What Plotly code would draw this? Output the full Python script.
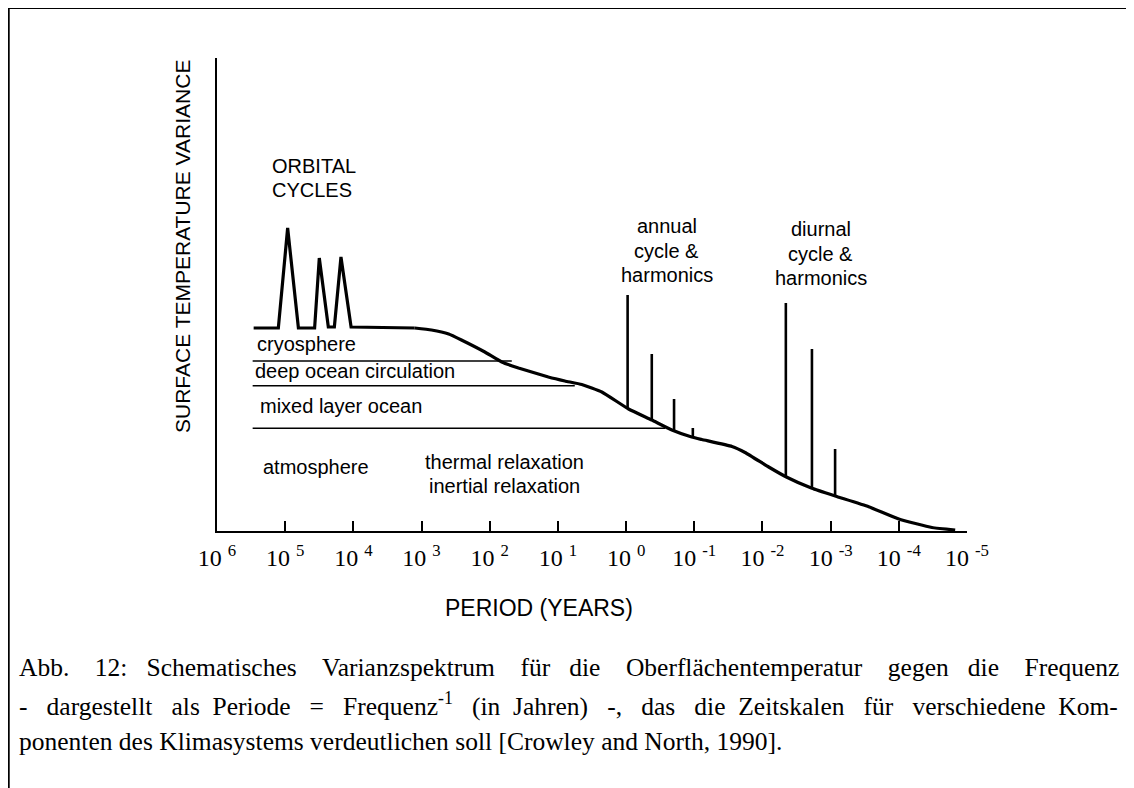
import math
import plotly.graph_objects as go

# ---------------- data ----------------
# background spectrum: period in years, variance in arbitrary units
curve_period = [2.9e5, 1.26e5, 9.2e4, 6.4e4, 3.7e4, 3.16e4, 2.33e4, 1.9e4, 1.52e4, 1.08e4,
                1260, 716, 400, 260, 118, 66.7, 37.9, 13.8, 7.9, 4.47, 2.27, 0.92, 0.42,
                0.213, 0.109, 0.0775, 0.028, 0.018, 0.0081, 0.00454, 0.00188, 8.6e-4,
                2.77e-4, 1.0e-4, 3.27e-5, 1.49e-5]
curve_variance = [203, 203, 303, 203, 203, 273, 204, 204, 274, 204,
                  203, 201, 197, 191, 179, 169, 163, 154, 150, 146.5, 139, 122, 111,
                  101, 94, 91.5, 84.5, 78.5, 64, 54.3, 42.7, 35,
                  24.3, 12, 3.5, 1]
N_ORBITAL = 11  # first points (orbital peaks + plateau) drawn with straight segments

# spectral lines (annual and diurnal cycles & harmonics)
spike_period = [0.95, 0.42, 0.198, 0.105, 0.00454, 0.00188, 8.6e-4]
spike_top = [236, 177, 132, 103, 228, 182, 82]
spike_base = [122, 111, 100, 94, 54, 43, 35]

# component separators
sep_variance = [170, 145.3, 102.7]
sep_start = [3.0e5, 3.0e5, 3.0e5]
sep_end = [47.5, 5.66, 0.268]

tick_exponents = [6, 5, 4, 3, 2, 1, 0, -1, -2, -3, -4, -5]
tick_labels = ["10\u00a0<sup>%d</sup>" % e for e in tick_exponents]

# ---------------- figure ----------------
# reference-pixel frame of the plot area (page coordinates)
PL, PR, PT, PB = 217, 966.7, 58, 531
OFF = 8  # page body margin
W, H = 1134 - OFF, 788 - OFF


def fx(px):
    return (px - PL) / (PR - PL)


def fy(py):
    return (PB - py) / (PB - PT)


fig = go.Figure()

sx, sy = [], []
for p0, p1, v in zip(sep_start, sep_end, sep_variance):
    sx += [p0, p1, None]
    sy += [v, v, None]
fig.add_trace(go.Scatter(x=sx, y=sy, mode="lines",
                         line=dict(color="black", width=1.6), hoverinfo="skip"))

fig.add_trace(go.Scatter(x=curve_period[:N_ORBITAL], y=curve_variance[:N_ORBITAL],
                         mode="lines", line=dict(color="black", width=3.2),
                         hoverinfo="skip"))
fig.add_trace(go.Scatter(x=curve_period[N_ORBITAL - 1:], y=curve_variance[N_ORBITAL - 1:],
                         mode="lines",
                         line=dict(color="black", width=3.2, shape="spline", smoothing=0.4),
                         hoverinfo="skip"))

kx, ky = [], []
for p, b, t in zip(spike_period, spike_base, spike_top):
    kx += [p, p, None]
    ky += [b, t, None]
fig.add_trace(go.Scatter(x=kx, y=ky, mode="lines",
                         line=dict(color="black", width=2.6), hoverinfo="skip"))

sans = "Liberation Sans, Arial, sans-serif"
serif = "Liberation Serif, Times New Roman, serif"

ann = []


def txt(text, period, var, xanchor="left", size=20):
    ann.append(dict(text=text, x=math.log10(period), y=var, xref="x", yref="y",
                    xanchor=xanchor, yanchor="middle", showarrow=False,
                    font=dict(family=sans, size=size, color="black")))


txt("ORBITAL", 10 ** 5.228, 365)
txt("CYCLES", 10 ** 5.228, 341)
txt("cryosphere", 10 ** 5.444, 187)
txt("deep ocean circulation", 10 ** 5.467, 160.5)
txt("mixed layer ocean", 10 ** 5.404, 125.5)
txt("atmosphere", 10 ** 5.36, 64)
txt("thermal relaxation", 10 ** 1.782, 69, "center")
txt("inertial relaxation", 10 ** 1.782, 45, "center")
txt("annual", 10 ** -0.597, 305, "center")
txt("cycle &", 10 ** -0.597, 280, "center")
txt("harmonics", 10 ** -0.597, 256, "center")
txt("diurnal", 10 ** -2.856, 302, "center")
txt("cycle &", 10 ** -2.856, 277, "center")
txt("harmonics", 10 ** -2.856, 253, "center")

# axis titles
ann.append(dict(text="SURFACE TEMPERATURE VARIANCE", x=fx(183), y=fy(246), xref="paper",
                yref="paper", textangle=-90, showarrow=False, xanchor="center",
                yanchor="middle", font=dict(family=sans, size=21, color="black")))
ann.append(dict(text="PERIOD (YEARS)", x=fx(539), y=fy(608), xref="paper", yref="paper",
                showarrow=False, xanchor="center", yanchor="middle",
                font=dict(family=sans, size=23, color="black")))

caption_words = [
    "Abb. 12: Schematisches Varianzspektrum für die Oberflächentemperatur gegen die Frequenz".split(" "),
    "- dargestellt als Periode = Frequenz<sup>-1</sup> (in Jahren) -, das die Zeitskalen für verschiedene Kom-".split(" "),
    "ponenten des Klimasystems verdeutlichen soll [Crowley and North, 1990].".split(" "),
]
# extra non-breaking spaces per word gap to imitate the justified paragraph
gap_extra = [
    [3, 2, 3, 3, 2, 3, 3, 2, 3],
    [2, 2, 1, 2, 2, 2, 1, 2, 2, 2, 1, 2, 2, 1],
    [0] * 9,
]
for words, extra, ypx in zip(caption_words, gap_extra, [667, 704, 741]):
    line = words[0]
    for w, k in zip(words[1:], extra):
        line += " " + "\u00a0" * k + w
    ann.append(dict(text=line, x=fx(17), y=fy(ypx), xref="paper", yref="paper",
                    showarrow=False, xanchor="left", yanchor="middle",
                    font=dict(family=serif, size=25.5, color="black")))

shapes = [
    dict(type="line", xref="paper", yref="paper", x0=fx(8), x1=fx(1140), y0=fy(8), y1=fy(8),
         line=dict(color="black", width=2)),
    dict(type="line", xref="paper", yref="paper", x0=fx(8.8), x1=fx(8.8), y0=fy(7), y1=fy(790),
         line=dict(color="black", width=2)),
]

fig.update_layout(
    width=W, height=H,
    margin=dict(l=PL - OFF, r=1134 - PR, t=PT - OFF, b=788 - PB, pad=0),
    paper_bgcolor="white", plot_bgcolor="white",
    showlegend=False,
    annotations=ann, shapes=shapes,
)
fig.update_xaxes(type="log", range=[6, -5], showgrid=False, zeroline=False,
                 showline=True, linecolor="black", linewidth=2,
                 ticks="inside", ticklen=10, tickwidth=2, tickcolor="black",
                 tickvals=[10 ** e for e in tick_exponents], ticktext=tick_labels,
                 tickfont=dict(family=serif, size=24, color="black"),
                 ticklabelstandoff=4)
fig.update_yaxes(range=[0, PB - PT], showgrid=False, zeroline=False, showline=True,
                 linecolor="black", linewidth=2.2, showticklabels=False, ticks="")

fig.write_html("out.html")
